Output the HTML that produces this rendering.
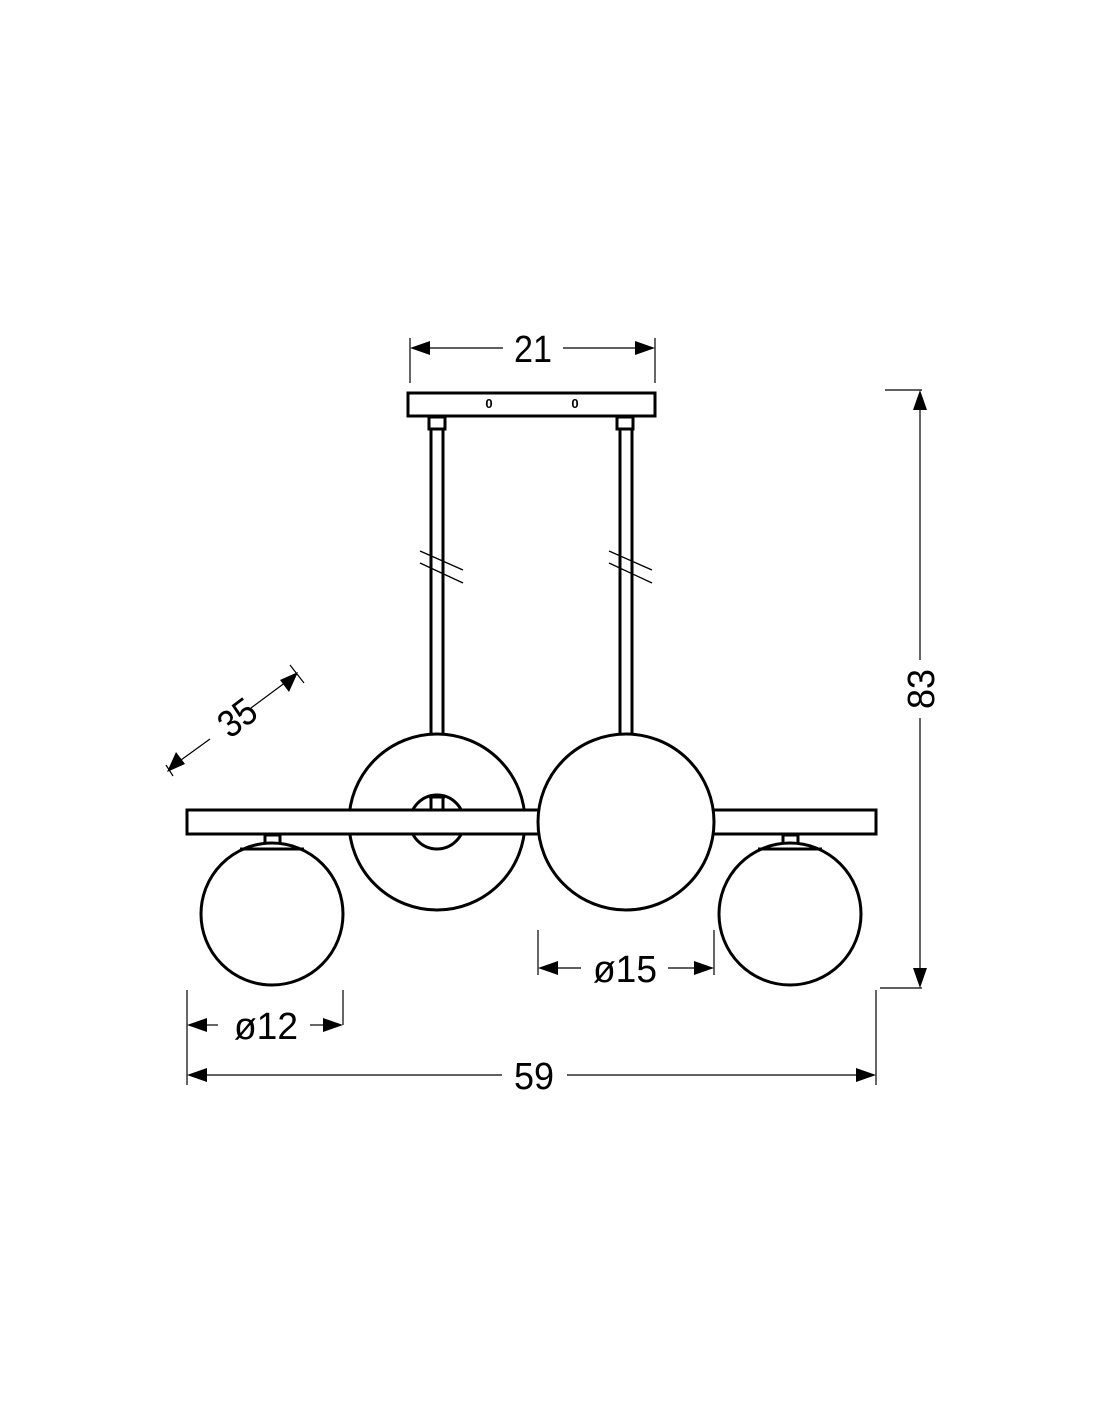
<!DOCTYPE html>
<html><head><meta charset="utf-8"><style>html,body{margin:0;padding:0;background:#fff}svg{display:block}</style></head>
<body>
<svg width="1100" height="1422" viewBox="0 0 1100 1422" xmlns="http://www.w3.org/2000/svg" font-family="Liberation Sans Narrow, Liberation Sans, sans-serif">
<g fill="none" stroke="#000" stroke-width="3">
 <rect x="408" y="393" width="247" height="23" fill="#fff"/>
 <rect x="429" y="417" width="16" height="12"/>
 <rect x="617" y="417" width="16" height="12"/>
 <line x1="431" y1="429" x2="431" y2="796"/>
 <line x1="443" y1="429" x2="443" y2="796"/>
 <line x1="620" y1="429" x2="620" y2="734"/>
 <line x1="632" y1="429" x2="632" y2="734"/>
 <circle cx="437" cy="822" r="88" fill="#fff"/>
 <circle cx="437" cy="822" r="27"/>
 <line x1="431" y1="796" x2="431" y2="810"/>
 <line x1="443" y1="796" x2="443" y2="810"/>
 <line x1="429" y1="797" x2="445" y2="797"/>
 <rect x="187" y="810" width="689" height="24" fill="#fff"/>
 <circle cx="626" cy="822" r="88" fill="#fff"/>
 <rect x="265" y="835" width="15" height="12"/>
 <circle cx="272" cy="914" r="71" fill="#fff"/>
 <path d="M240,849 L304,849"/>
 <rect x="783" y="835" width="15" height="12"/>
 <circle cx="790" cy="914" r="71" fill="#fff"/>
 <path d="M758,849 L822,849"/>
</g>
<rect x="432" y="555" width="10" height="18" fill="#fff"/>
<rect x="621" y="555" width="10" height="18" fill="#fff"/>
<g stroke="#000" stroke-width="3"><line x1="431" y1="548" x2="431" y2="575"/><line x1="443" y1="548" x2="443" y2="575"/><line x1="620" y1="548" x2="620" y2="575"/><line x1="632" y1="548" x2="632" y2="575"/></g>
<g stroke="#000" stroke-width="1.3"><line x1="420" y1="551" x2="463" y2="570"/><line x1="420" y1="563" x2="463" y2="583"/><line x1="609" y1="551" x2="652" y2="570"/><line x1="609" y1="563" x2="652" y2="583"/></g>
<text x="489" y="408" font-size="13" font-weight="bold" text-anchor="middle" font-family="Liberation Sans, sans-serif">0</text>
<text x="575" y="408" font-size="13" font-weight="bold" text-anchor="middle" font-family="Liberation Sans, sans-serif">0</text>
<g stroke="#000" stroke-width="1.2" fill="none">
 <line x1="410" y1="338" x2="410" y2="383"/><line x1="655" y1="338" x2="655" y2="383"/>
 <line x1="428" y1="348" x2="503" y2="348"/><line x1="563" y1="348" x2="637" y2="348"/>
 <line x1="885" y1="390" x2="922" y2="390"/><line x1="880" y1="988" x2="922" y2="988"/>
 <line x1="920" y1="408" x2="920" y2="660"/><line x1="920" y1="718" x2="920" y2="970"/>
 <line x1="187" y1="990" x2="187" y2="1085"/><line x1="876" y1="990" x2="876" y2="1085"/>
 <line x1="205" y1="1075" x2="502" y2="1075"/><line x1="567" y1="1075" x2="858" y2="1075"/>
 <line x1="343" y1="990" x2="343" y2="1025"/>
 <line x1="205" y1="1025" x2="218" y2="1025"/><line x1="310" y1="1025" x2="325" y2="1025"/>
 <line x1="538" y1="930" x2="538" y2="975"/><line x1="714" y1="930" x2="714" y2="975"/>
 <line x1="556" y1="968" x2="581" y2="968"/><line x1="668" y1="968" x2="696" y2="968"/>
 <line x1="181" y1="760" x2="210" y2="739"/><line x1="251" y1="708" x2="286" y2="682"/>
 <line x1="166" y1="765" x2="173" y2="776"/><line x1="290" y1="665" x2="304" y2="683"/>
</g>
<g fill="#000">
 <polygon points="410,348 430,341 430,355"/><polygon points="655,348 635,341 635,355"/>
 <polygon points="920,390 913,410 927,410"/><polygon points="920,988 913,968 927,968"/>
 <polygon points="187,1075 207,1068 207,1082"/><polygon points="876,1075 856,1068 856,1082"/>
 <polygon points="187,1025 207,1018 207,1032"/><polygon points="343,1025 323,1018 323,1032"/>
 <polygon points="538,968 558,961 558,975"/><polygon points="714,968 694,961 694,975"/>
 <polygon points="167,772 176,752 185,764"/><polygon points="298,672 280,680 289,692"/>
</g>
<g font-size="38" fill="#000" text-anchor="middle">
 <text x="533" y="362" textLength="38" lengthAdjust="spacingAndGlyphs">21</text>
 <text x="534" y="1089" textLength="40" lengthAdjust="spacingAndGlyphs">59</text>
 <text x="266" y="1039" textLength="64" lengthAdjust="spacingAndGlyphs">ø12</text>
 <text x="625" y="982" textLength="64" lengthAdjust="spacingAndGlyphs">ø15</text>
 <text transform="translate(934,689) rotate(-90)" x="0" y="0" textLength="40" lengthAdjust="spacingAndGlyphs">83</text>
 <text transform="translate(245,728) rotate(-37)" x="0" y="0" textLength="38" lengthAdjust="spacingAndGlyphs">35</text>
</g>
</svg>
</body></html>
